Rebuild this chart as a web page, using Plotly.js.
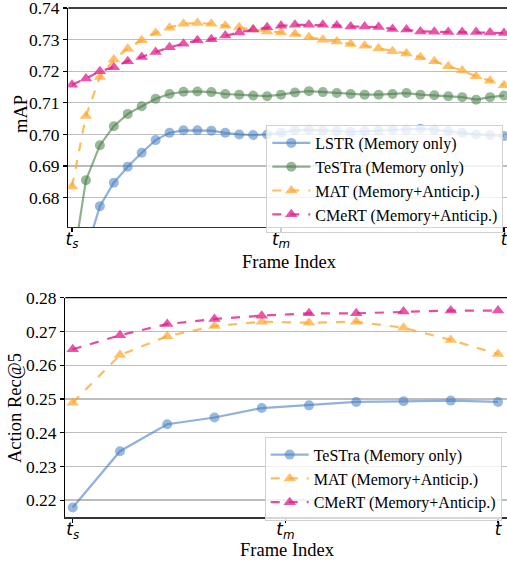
<!DOCTYPE html>
<html>
<head>
<meta charset="utf-8">
<script src="https://cdn.plot.ly/plotly-3.0.1.min.js"></script>
<style>html,body{margin:0;padding:0;background:#fff;}#chart{width:507px;height:563px;}</style>
</head>
<body>
<div id="chart"></div>
<script>
// ---------- Data (top panel: mAP over frame index, 32 steps) ----------
const topIndex = Array.from({length: 32}, (_, i) => i);
const lstrTop = [0.6450,0.6627,0.6773,0.6847,0.6898,0.6942,0.6982,0.7005,0.7013,0.7013,
                 0.7012,0.7005,0.7000,0.6998,0.7000,0.7005,0.7013,0.7015,0.7012,0.7010,
                 0.7008,0.7010,0.7012,0.7015,0.7015,0.7018,0.7015,0.7010,0.7005,0.7000,
                 0.6998,0.6995];
const testraTop = [0.6570,0.6855,0.6966,0.7026,0.7065,0.7089,0.7113,0.7128,0.7135,0.7136,
                   0.7134,0.7128,0.7126,0.7123,0.7121,0.7126,0.7133,0.7137,0.7134,0.7131,
                   0.7128,0.7126,0.7126,0.7128,0.7131,0.7126,0.7124,0.7121,0.7118,0.7110,
                   0.7118,0.7123];
const matTop = [0.6835,0.7058,0.7182,0.7237,0.7271,0.7298,0.7321,0.7338,0.7350,0.7353,
                0.7350,0.7344,0.7339,0.7332,0.7326,0.7323,0.7318,0.7308,0.7300,0.7294,
                0.7286,0.7281,0.7272,0.7263,0.7256,0.7244,0.7232,0.7216,0.7202,0.7184,
                0.7170,0.7156];
const cmertTop = [0.7157,0.7177,0.7200,0.7213,0.7232,0.7245,0.7261,0.7276,0.7287,0.7298,
                  0.7301,0.7313,0.7323,0.7332,0.7339,0.7344,0.7347,0.7347,0.7347,0.7345,
                  0.7342,0.7342,0.7340,0.7334,0.7332,0.7326,0.7325,0.7324,0.7324,0.7324,
                  0.7323,0.7321];
const topTickVals = [0, 15, 31];

// ---------- Data (bottom panel: Action Rec@5, 10 steps) ----------
const botIndex = Array.from({length: 10}, (_, i) => i);
const testraBot = [0.2178,0.2345,0.2425,0.2445,0.2473,0.2481,0.2491,0.2493,0.2495,0.2491];
const matBot    = [0.2489,0.2630,0.2686,0.2716,0.2729,0.2726,0.2729,0.2711,0.2675,0.2633];
const cmertBot  = [0.2647,0.2689,0.2722,0.2737,0.2747,0.2754,0.2754,0.2759,0.2762,0.2762];
const botTickVals = [0, 4.5, 9];

const tickText = ['<i>t</i><sub><i>s</i></sub>', '<i>t</i><sub><i>m</i></sub>', '<i>t</i>'];
const names = {
  lstr: 'LSTR (Memory only)',
  testra: 'TeSTra (Memory only)',
  mat: 'MAT (Memory+Anticip.)',
  cmert: 'CMeRT (Memory+Anticip.)'
};
const xTitle = 'Frame Index';
const yTitleTop = 'mAP';
const yTitleBot = 'Action Rec@5';

// ---------- Styles ----------
const C = {
  blueL: 'rgba(70,125,195,0.6)', blueM: 'rgba(70,125,195,0.55)',
  greenL: 'rgba(70,125,70,0.6)', greenM: 'rgba(70,125,70,0.55)',
  orangeL: 'rgba(255,165,40,0.75)', orangeM: 'rgba(255,165,40,0.7)',
  pinkL: 'rgba(225,30,140,0.8)', pinkM: 'rgba(225,30,140,0.75)'
};
function tr(x, y, name, lc, mc, dash, sym, xa, ya, leg) {
  return {
    x: x, y: y, name: name, type: 'scatter', mode: 'lines+markers',
    xaxis: xa, yaxis: ya, legend: leg, cliponaxis: true,
    line: {color: lc, width: 2.2, dash: dash},
    marker: {color: mc, size: sym === 'circle' ? 10 : 11, symbol: sym, line: {width: 0}}
  };
}

const data = [
  tr(topIndex, lstrTop, names.lstr, C.blueL, C.blueM, 'solid', 'circle', 'x', 'y', 'legend'),
  tr(topIndex, testraTop, names.testra, C.greenL, C.greenM, 'solid', 'circle', 'x', 'y', 'legend'),
  tr(topIndex, matTop, names.mat, C.orangeL, C.orangeM, 'dash', 'triangle-up', 'x', 'y', 'legend'),
  tr(topIndex, cmertTop, names.cmert, C.pinkL, C.pinkM, 'dash', 'triangle-up', 'x', 'y', 'legend'),
  tr(botIndex, testraBot, names.testra, C.blueL, C.blueM, 'solid', 'circle', 'x2', 'y2', 'legend2'),
  tr(botIndex, matBot, names.mat, C.orangeL, C.orangeM, 'dash', 'triangle-up', 'x2', 'y2', 'legend2'),
  tr(botIndex, cmertBot, names.cmert, C.pinkL, C.pinkM, 'dash', 'triangle-up', 'x2', 'y2', 'legend2')
];

const W = 507, H = 563;
const serif = 'Liberation Serif, Times New Roman, serif';
const tickFont = {family: serif, size: 17.5, color: '#000'};
const titleFont = {family: serif, size: 18.5, color: '#000'};
const mathFont = {family: 'DejaVu Sans', size: 17, color: '#000'};

function xax(domain, range, tv, anchor, standoff) {
  return {
    domain: domain, range: range, anchor: anchor, automargin: false,
    tickvals: tv, ticktext: tickText, tickfont: mathFont, ticklabeloverflow: 'allow',
    ticklabelstandoff: standoff,
    ticks: 'outside', ticklen: 4, tickwidth: 1.2, tickcolor: '#000',
    showgrid: false, zeroline: false, showline: true, linecolor: '#333', linewidth: 1.3
  };
}
function yax(domain, range, anchor) {
  return {
    domain: domain, range: range, anchor: anchor, automargin: false,
    dtick: 0.01, tick0: 0, tickformat: '.2f', tickfont: tickFont, ticklabeloverflow: 'allow',
    ticks: 'outside', ticklen: 4, tickwidth: 1.2, tickcolor: '#000',
    showgrid: true, gridcolor: '#bdbdbd', gridwidth: 1.3,
    zeroline: false, showline: true, linecolor: '#000', linewidth: 1.3
  };
}
function ann(text, x, y, angle) {
  return {text: text, xref: 'paper', yref: 'paper', x: x / W, y: 1 - y / H,
          xanchor: 'center', yanchor: 'middle', showarrow: false, font: titleFont,
          textangle: angle || 0};
}
function leg(x, y) {
  return {
    x: x / W, y: 1 - y / H, xanchor: 'right', yanchor: 'top', itemwidth: 38,
    bgcolor: 'rgba(255,255,255,0.8)', bordercolor: '#d0d0d0', borderwidth: 1,
    font: {family: serif, size: 16, color: '#000'}, tracegroupgap: 0
  };
}

const layout = {
  width: W, height: H,
  margin: {l: 0, r: 0, t: 0, b: 0},
  paper_bgcolor: '#fff', plot_bgcolor: '#fff',
  showlegend: true,
  xaxis: xax([68.3 / W, 1], [-0.266, 31.215], topTickVals, 'y', -8),
  yaxis: yax([1 - 227 / H, 1 - 8 / H], [0.6707, 0.74002], 'x'),
  xaxis2: xax([65.3 / W, 1], [-0.157, 9.19], botTickVals, 'y2', -8),
  yaxis2: yax([1 - 517.3 / H, 1 - 297.7 / H], [0.2149, 0.28002], 'x2'),
  legend: leg(503.3, 125),
  legend2: leg(501.7, 436.7),
  annotations: [
    ann(xTitle, 289, 262),
    ann(xTitle, 287, 550),
    ann(yTitleTop, 21, 114, -90),
    ann(yTitleBot, 15, 408, -90)
  ],
  shapes: [
    {type: 'line', xref: 'x domain', yref: 'y domain', x0: 0, x1: 1, y0: 1, y1: 1,
     line: {color: '#000', width: 1.3}},
    {type: 'line', xref: 'x2 domain', yref: 'y2 domain', x0: 0, x1: 1, y0: 1, y1: 1,
     line: {color: '#000', width: 1.3}}
  ]
};

Plotly.newPlot('chart', data, layout, {displayModeBar: false, staticPlot: true});
</script>
</body>
</html>
